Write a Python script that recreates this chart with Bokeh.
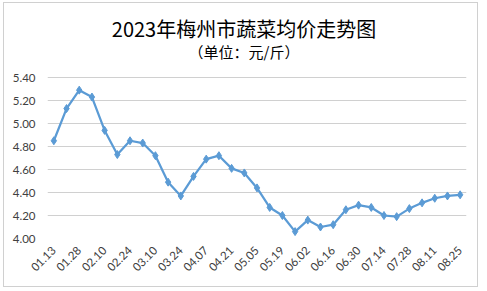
import math
from bokeh.plotting import figure
from bokeh.models import FixedTicker, NumeralTickFormatter, Range1d, Label
from bokeh.embed import file_html
from bokeh.resources import INLINE

title_text = "2023年梅州市蔬菜均价走势图"
subtitle_text = "（单位：元/斤）"
tick_labels = ["01.13", "01.28", "02.10", "02.24", "03.10", "03.24", "04.07", "04.21",
               "05.05", "05.19", "06.02", "06.16", "06.30", "07.14", "07.28", "08.11", "08.25"]
prices = [4.85, 5.13, 5.29, 5.23, 4.94, 4.73, 4.85, 4.83, 4.72, 4.49, 4.37, 4.54,
          4.69, 4.72, 4.61, 4.57, 4.44, 4.27, 4.20, 4.06, 4.16, 4.10, 4.12, 4.25,
          4.29, 4.27, 4.20, 4.19, 4.26, 4.31, 4.35, 4.37, 4.38]
y_ticks = [4.00, 4.20, 4.40, 4.60, 4.80, 5.00, 5.20, 5.40]

xs = list(range(len(prices)))
label_positions = xs[::2]

# frame spans the full canvas height above the x-axis labels; the value axis
# keeps 4.00..5.40 over 161 px and the extra room above holds the titles
px_per_unit = 161 / 1.4
frame_h = 235
y_lo = 4.0
y_hi = y_lo + frame_h / px_per_unit
x_lo, x_hi = -0.5, len(prices) - 0.5
x_px = 419 / (x_hi - x_lo)

p = figure(width=475, height=285, output_backend="svg", toolbar_location=None,
           x_range=Range1d(x_lo, x_hi), y_range=Range1d(y_lo, y_hi),
           min_border_left=43, min_border_right=13, min_border_top=0, min_border_bottom=50,
           styles={"border": "1px solid #d0d0d0", "margin-left": "3px", "margin-top": "2px"})

title_x = x_lo + 196.5 / x_px
p.add_layout(Label(text=title_text, x=title_x, y=y_hi - 25 / px_per_unit,
                   text_align="center", text_baseline="middle",
                   text_font="Noto Sans CJK SC", text_font_size="20px",
                   text_color="#000000"))
p.add_layout(Label(text=subtitle_text, x=title_x, y=y_hi - 47.5 / px_per_unit,
                   text_align="center", text_baseline="middle",
                   text_font="Noto Sans CJK SC", text_font_size="15px",
                   text_color="#000000"))

p.line(xs, prices, line_color="#5b9bd5", line_width=2.25)
p.scatter(xs, prices, marker="diamond", size=8, fill_color="#5b9bd5", line_color="#5b9bd5")

p.outline_line_color = None
p.background_fill_color = "white"
p.border_fill_color = "white"

p.xgrid.grid_line_color = None
p.ygrid.grid_line_color = "#d0d0d0"
p.ygrid.grid_line_width = 1

p.yaxis.ticker = FixedTicker(ticks=y_ticks)
p.yaxis.formatter = NumeralTickFormatter(format="0.00")
p.yaxis.axis_line_color = None
p.yaxis.major_tick_line_color = None
p.yaxis.minor_tick_line_color = None
p.yaxis.major_tick_out = 0
p.yaxis.major_label_standoff = 12
p.yaxis.major_label_text_font = "Lato"
p.yaxis.major_label_text_font_size = "11.5px"
p.yaxis.major_label_text_color = "#404040"

p.xaxis.ticker = FixedTicker(ticks=label_positions)
p.xaxis.major_label_overrides = {x: lab for x, lab in zip(label_positions, tick_labels)}
p.xaxis.major_label_orientation = math.pi / 4
p.xaxis.axis_line_color = None
p.xaxis.major_tick_line_color = None
p.xaxis.minor_tick_line_color = None
p.xaxis.major_tick_out = 0
p.xaxis.major_label_standoff = 10
p.xaxis.major_label_text_font = "Lato"
p.xaxis.major_label_text_font_size = "11.5px"
p.xaxis.major_label_text_color = "#404040"

open("out.html", "w").write(file_html(p, INLINE))
